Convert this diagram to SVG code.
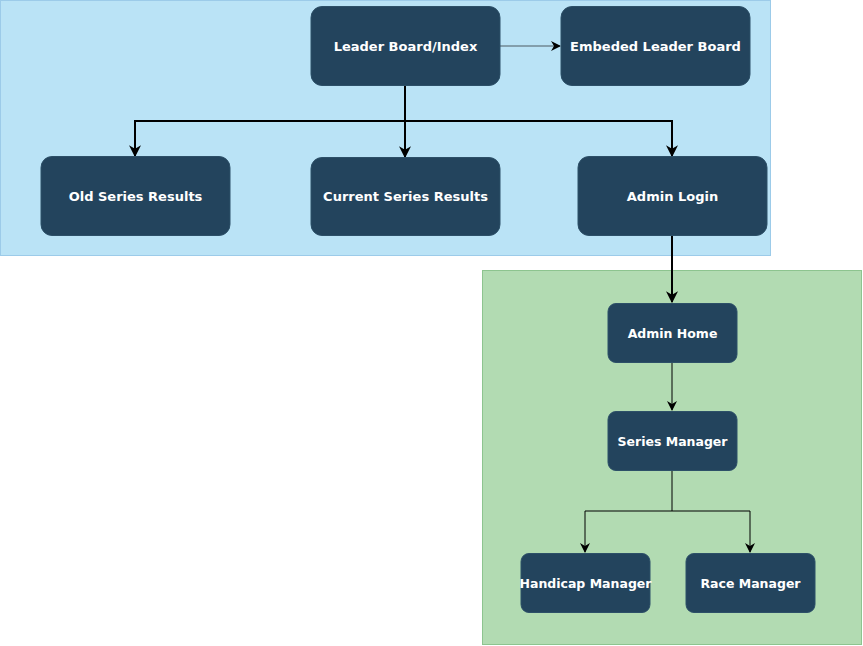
<svg xmlns="http://www.w3.org/2000/svg" width="863" height="646" viewBox="0 0 863 646">
<style>
.node rect{fill:#23445d;stroke:#2d5068;stroke-width:1}
.node text{fill:#ffffff;font-family:"DejaVu Sans",Verdana,sans-serif;font-weight:bold;font-size:12.5px;text-anchor:middle;dominant-baseline:central}
.big text{font-size:13px}
.c{fill:none;stroke:#000}
.thick{stroke-width:2}
.thin{stroke-width:1}
</style>
<defs>
<marker id="ahL" viewBox="0 0 10 10" refX="9" refY="5" markerWidth="12" markerHeight="12" orient="auto" markerUnits="userSpaceOnUse">
<path d="M0,0 L10,5 L0,10 L3,5 z" fill="#000"/>
</marker>
<marker id="ahM" viewBox="0 0 10 10" refX="9" refY="5" markerWidth="10" markerHeight="10" orient="auto" markerUnits="userSpaceOnUse">
<path d="M0,0 L10,5 L0,10 L3,5 z" fill="#000"/>
</marker>
</defs>
<g id="groups">
<rect x="0.5" y="0.5" width="770" height="255" fill="#bae3f6" stroke="#9ccbe9"/>
<rect x="482.5" y="270.5" width="379" height="374" fill="#b2dbb2" stroke="#8dc48f"/>
</g>
<g id="connectors">
<path class="c thin" d="M500,46 H560" style="stroke:#4d5a63" marker-end="url(#ahM)"/>
<path class="c thick" d="M405,86 V121 H135 V156" marker-end="url(#ahL)"/>
<path class="c thick" d="M405,121 V157" marker-end="url(#ahL)"/>
<path class="c thick" d="M405,121 H672 V156" marker-end="url(#ahL)"/>
<path class="c thick" d="M672,236 V302" marker-end="url(#ahL)"/>
<path class="c thin" d="M672,362 V410" marker-end="url(#ahM)"/>
<path class="c thin" d="M672,470 V511 H585 V552" marker-end="url(#ahM)"/>
<path class="c thin" d="M672,511 H750 V552" marker-end="url(#ahM)"/>
</g>
<g id="leader-board" class="node big"><rect x="311" y="6.5" width="189" height="79" rx="11"/><text x="405.5" y="46">Leader Board/Index</text></g>
<g id="embeded-leader-board" class="node big"><rect x="561" y="6.5" width="189" height="79" rx="11"/><text x="655.5" y="46">Embeded Leader Board</text></g>
<g id="old-series-results" class="node big"><rect x="41" y="156.5" width="189" height="79" rx="11"/><text x="135.5" y="196">Old Series Results</text></g>
<g id="current-series-results" class="node big"><rect x="311" y="157.5" width="189" height="78" rx="11"/><text x="405.5" y="196">Current Series Results</text></g>
<g id="admin-login" class="node big"><rect x="578" y="156.5" width="189" height="79" rx="11"/><text x="672.5" y="196">Admin Login</text></g>
<g id="admin-home" class="node"><rect x="608" y="303.5" width="129" height="59" rx="8"/><text x="672.5" y="333">Admin Home</text></g>
<g id="series-manager" class="node"><rect x="608" y="411.5" width="129" height="59" rx="8"/><text x="672.5" y="441">Series Manager</text></g>
<g id="handicap-manager" class="node"><rect x="521" y="553.5" width="129" height="59" rx="8"/><text x="585.5" y="583">Handicap Manager</text></g>
<g id="race-manager" class="node"><rect x="686" y="553.5" width="129" height="59" rx="8"/><text x="750.5" y="583">Race Manager</text></g>
</svg>
